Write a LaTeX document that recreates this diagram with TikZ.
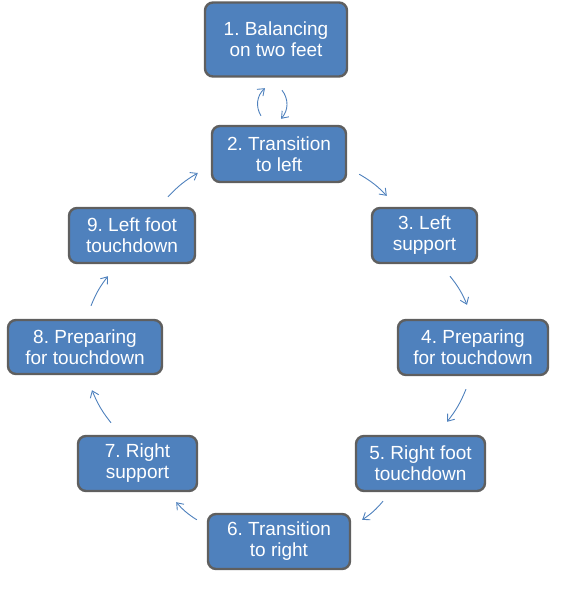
\documentclass[tikz,border=0pt]{standalone}
\usepackage{fontspec}
\setmainfont{Liberation Sans}
\usetikzlibrary{arrows.meta}
\definecolor{boxfill}{HTML}{4F81BD}
\definecolor{boxline}{HTML}{5F5F5F}
\definecolor{arrowcol}{HTML}{4F81BD}
\frenchspacing
\tikzset{
  statebox/.style={draw=boxline, line width=2.4pt, fill=boxfill, rounded corners=8pt,
    text=white, align=center, inner sep=0pt,
    font=\fontsize{19pt}{21pt}\selectfont},
  flow/.style={draw=arrowcol, line width=0.9pt, -{Straight Barb[length=6pt,width=9pt]}}
}
\begin{document}
\begin{tikzpicture}[x=1pt,y=-1pt]
\useasboundingbox (0,0) rectangle (574,598);
\node[statebox, minimum width=142pt, minimum height=74pt] (n1) at (276,39.5) {1. Balancing\\on two feet};
\node[statebox, minimum width=134pt, minimum height=56pt] (n2) at (279,154) {2. Transition\\to left};
\node[statebox, minimum width=105pt, minimum height=55pt] (n3) at (424.5,235.5) {3. Left\\support};
\node[statebox, minimum width=150pt, minimum height=55pt] (n4) at (473,347.5) {4. Preparing\\for touchdown};
\node[statebox, minimum width=129pt, minimum height=55pt] (n5) at (420.5,463.5) {5. Right foot\\touchdown};
\node[statebox, minimum width=142pt, minimum height=55pt] (n6) at (279,541.5) {6. Transition\\to right};
\node[statebox, minimum width=119pt, minimum height=55pt] (n7) at (137.5,463.5) {7. Right\\support};
\node[statebox, minimum width=154pt, minimum height=54pt] (n8) at (85,347) {8. Preparing\\for touchdown};
\node[statebox, minimum width=126pt, minimum height=55pt] (n9) at (132,235.5) {9. Left foot\\touchdown};

\draw[flow] ([xshift=-18pt,yshift=9pt]n2.north) to[bend left=40] ([xshift=-11pt,yshift=-10.5pt]n1.south);
\draw[flow] ([xshift=6pt,yshift=-12.5pt]n1.south) to[bend left=40] ([xshift=2pt,yshift=6pt]n2.north);
\draw[flow] ([xshift=12pt,yshift=9pt]n2.south east) to[bend left=8] ([xshift=16pt,yshift=11pt]n3.north west);
\draw[flow] ([xshift=25.5pt,yshift=-12pt]n3.south) to[bend left=8] ([xshift=-6pt,yshift=14pt]n4.north);
\draw[flow] ([xshift=-7pt,yshift=-13pt]n4.south) to[bend left=8] ([xshift=26.5pt,yshift=13pt]n5.north);
\draw[flow] ([xshift=-37.5pt,yshift=-9pt]n5.south) to[bend left=8] ([xshift=11pt,yshift=-7pt]n6.north east);
\draw[flow] ([xshift=-10pt,yshift=-7pt]n6.north west) to[bend left=8] ([xshift=-22pt,yshift=-10pt]n7.south east);
\draw[flow] ([xshift=-26.5pt,yshift=12pt]n7.north) to[bend left=8] ([xshift=7pt,yshift=-15pt]n8.south);
\draw[flow] ([xshift=6pt,yshift=13pt]n8.north) to[bend left=8] ([xshift=-24pt,yshift=-12pt]n9.south);
\draw[flow] ([xshift=36pt,yshift=10pt]n9.north) to[bend left=8] ([xshift=-13pt,yshift=-19pt]n2.west);
\end{tikzpicture}
\end{document}
